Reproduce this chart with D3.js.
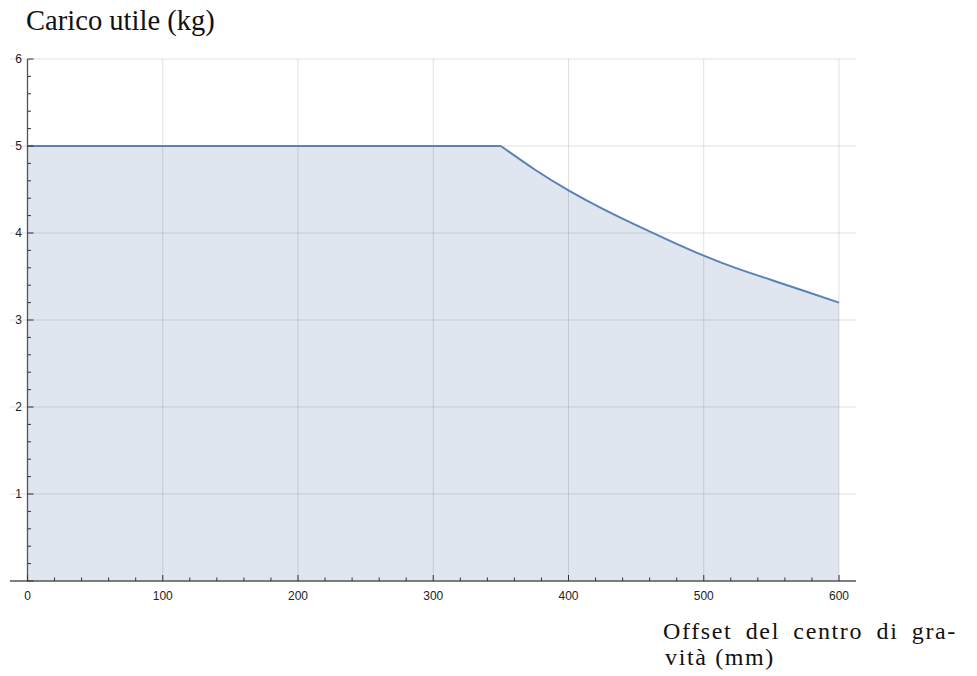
<!DOCTYPE html>
<html>
<head>
<meta charset="utf-8">
<script src="https://cdn.jsdelivr.net/npm/d3@7"></script>
<style>
  body { margin: 0; background: #fff; }
  svg { display: block; }
</style>
</head>
<body>
<div id="chart"></div>
<script>
// offset del centro di gravità (mm) -> carico utile (kg)
// flat part of the curve, then the falling part
const offsetFlat = [0, 350];
const caricoFlat = [5, 5];
const offsetCurva = [350, 375, 400, 425, 450, 475, 500, 525, 550, 575, 600];
const caricoCurva = [5, 4.73, 4.49, 4.28, 4.09, 3.91, 3.74, 3.59, 3.46, 3.33, 3.2];
const xTicks = [0, 100, 200, 300, 400, 500, 600];
const yTicks = [1, 2, 3, 4, 5, 6];

const W = 977, H = 676;
const lineColor = "#5e81b5";

const svg = d3.select("#chart").append("svg")
    .attr("width", W)
    .attr("height", H);

const x = d3.scaleLinear().domain([0, 600]).range([27.5, 839]);
const y = d3.scaleLinear().domain([0, 6]).range([581, 59]);

const flat = offsetFlat.map((d, i) => ({ x: d, y: caricoFlat[i] }));
const curva = offsetCurva.map((d, i) => ({ x: d, y: caricoCurva[i] }));

// filling under the curve
const areaFlat = d3.area()
    .x(d => x(d.x))
    .y0(y(0))
    .y1(d => y(d.y));
const areaCurva = d3.area()
    .curve(d3.curveNatural)
    .x(d => x(d.x))
    .y0(y(0))
    .y1(d => y(d.y));

svg.append("path")
    .datum(flat)
    .attr("d", areaFlat)
    .attr("fill", lineColor)
    .attr("fill-opacity", 0.2);
svg.append("path")
    .datum(curva)
    .attr("d", areaCurva)
    .attr("fill", lineColor)
    .attr("fill-opacity", 0.2);

// grid lines (drawn over the fill, translucent)
svg.append("g").selectAll("line")
    .data(xTicks.filter(d => d > 0))
    .join("line")
    .attr("x1", d => x(d)).attr("x2", d => x(d))
    .attr("y1", y(6)).attr("y2", y(0))
    .attr("stroke", "#000")
    .attr("stroke-opacity", 0.12);

svg.append("g").selectAll("line")
    .data(yTicks)
    .join("line")
    .attr("x1", 10).attr("x2", x(600) + 17)
    .attr("y1", d => y(d)).attr("y2", d => y(d))
    .attr("stroke", "#000")
    .attr("stroke-opacity", 0.12);

// the curve
svg.append("path")
    .datum(flat)
    .attr("d", d3.line().x(d => x(d.x)).y(d => y(d.y)))
    .attr("fill", "none")
    .attr("stroke", lineColor)
    .attr("stroke-width", 2);
svg.append("path")
    .datum(curva)
    .attr("d", d3.line().curve(d3.curveNatural).x(d => x(d.x)).y(d => y(d.y)))
    .attr("fill", "none")
    .attr("stroke", lineColor)
    .attr("stroke-width", 2);

// axes, Mathematica style: ticks pointing inward
const axisColor = "#555";

svg.append("line")
    .attr("x1", 10).attr("x2", 856)
    .attr("y1", y(0)).attr("y2", y(0))
    .attr("stroke", axisColor)
    .attr("stroke-width", 1.3);

svg.append("line")
    .attr("x1", x(0)).attr("x2", x(0))
    .attr("y1", y(6)).attr("y2", y(0))
    .attr("stroke", axisColor)
    .attr("stroke-width", 1.3);

// x ticks
const xMinor = d3.range(0, 601, 20);
svg.append("g").selectAll("line")
    .data(xMinor)
    .join("line")
    .attr("x1", d => x(d)).attr("x2", d => x(d))
    .attr("y1", y(0))
    .attr("y2", d => y(0) - (d % 100 === 0 ? 6 : 3.5))
    .attr("stroke", "#333")
    .attr("stroke-width", 1);

// y ticks
const yMinor = d3.range(0, 31).map(i => i / 5);
svg.append("g").selectAll("line")
    .data(yMinor)
    .join("line")
    .attr("x1", x(0))
    .attr("x2", (d, i) => x(0) + (i % 5 === 0 ? 6 : 3.5))
    .attr("y1", d => y(d)).attr("y2", d => y(d))
    .attr("stroke", "#333")
    .attr("stroke-width", 1);

// tick labels
const sans = "'Liberation Sans', Arial, sans-serif";
svg.append("g").selectAll("text")
    .data(xTicks)
    .join("text")
    .attr("x", d => x(d))
    .attr("y", y(0) + 19)
    .attr("text-anchor", "middle")
    .style("font-family", sans)
    .style("font-size", "12px")
    .attr("fill", "#222")
    .text(d => d);

svg.append("g").selectAll("text")
    .data(yTicks)
    .join("text")
    .attr("x", 22)
    .attr("y", d => y(d) + 4)
    .attr("text-anchor", "end")
    .style("font-family", sans)
    .style("font-size", "12px")
    .attr("fill", "#222")
    .text(d => d);

// axis labels, serif
const serif = "'Liberation Serif', 'Times New Roman', serif";

const title = svg.append("text")
    .attr("x", 26)
    .attr("y", 30)
    .style("font-family", serif)
    .style("font-size", "22px")
    .attr("fill", "#111")
    .text("Carico utile (kg)");

// fit the title to the width in the picture
let tw = title.node().getComputedTextLength();
title.style("font-size", (22 * 189 / tw) + "px");

// x label: two lines, first one justified (663..957)
const xl2 = svg.append("text")
    .attr("x", 665)
    .attr("y", 665)
    .style("font-family", serif)
    .style("font-size", "24px")
    .attr("fill", "#111")
    .text("vità (mm)");

let w2 = xl2.node().getComputedTextLength();
const ls = Math.max(0, (110 - w2) / 9);
xl2.style("letter-spacing", ls + "px");

const xl1 = svg.append("text")
    .attr("x", 663)
    .attr("y", 639)
    .style("font-family", serif)
    .style("font-size", "24px")
    .style("letter-spacing", ls + "px")
    .attr("fill", "#111")
    .text("Offset del centro di gra-");

let w1 = xl1.node().getComputedTextLength();
xl1.style("word-spacing", ((957 - 663 - w1) / 4) + "px");
</script>
</body>
</html>
